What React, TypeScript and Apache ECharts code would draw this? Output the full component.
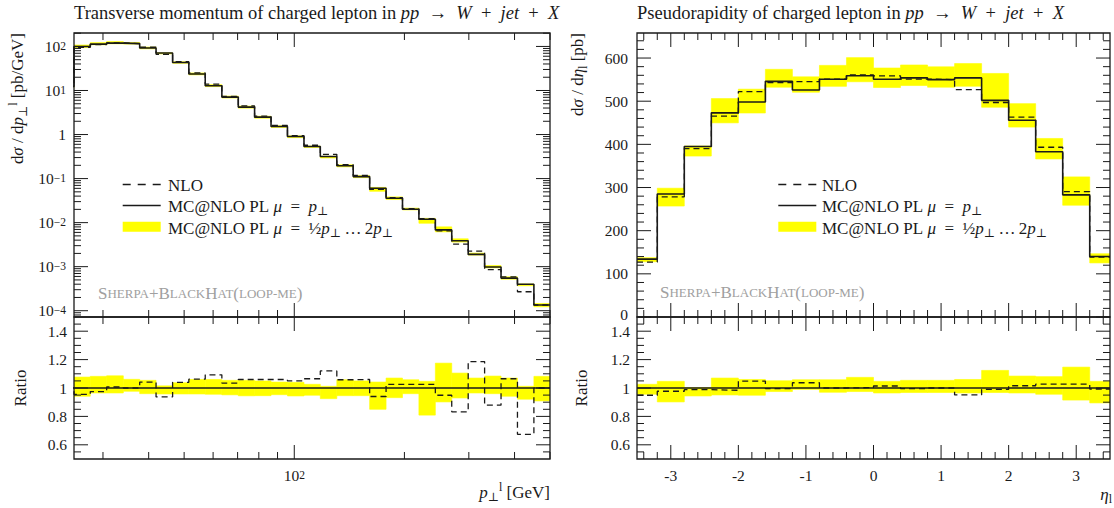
import React, { useEffect, useRef } from "react";
import * as echarts from "echarts";

// ---------------- data ----------------
// transverse momentum of the charged lepton: bin edges [GeV] (first bin lies just below the plotted range)
const PT_EDGES = [22.5, 25, 27.7, 30.7, 34.1, 37.8, 41.9, 46.5, 51.5, 57.1, 63.4, 70.3, 77.9, 86.4, 95.8, 106.3, 117.8, 130.7, 144.9, 160.7, 178.2, 197.6, 219.1, 243.0, 269.4, 298.8, 331.3, 367.4, 407.4, 451.8, 500];
// MC@NLO PL, mu = pT  [pb/GeV]
const PT_MC = [12.3, 100, 113, 119, 116, 92, 70.8, 43.3, 23.6, 12.8, 7.08, 4.2, 2.48, 1.52, 0.9, 0.536, 0.317, 0.195, 0.111, 0.0605, 0.0359, 0.0202, 0.01195, 0.00683, 0.00389, 0.0019, 0.00098, 0.00055, 0.0004, 0.000135];
// NLO / MC@NLO
const PT_NLO_RATIO = [1.0, 0.955, 0.975, 1.007, 1.0, 1.042, 0.937, 1.04, 1.062, 1.093, 1.035, 1.06, 1.06, 1.06, 1.05, 1.065, 1.12, 1.058, 1.06, 0.94, 1.026, 1.026, 1.026, 0.949, 0.832, 1.186, 0.879, 1.065, 0.674, 1.0];
// scale band (mu = pT/2 ... 2pT) / MC@NLO
const PT_BAND_HI = [1.06, 1.077, 1.082, 1.086, 1.061, 1.054, 1.015, 1.037, 1.06, 1.06, 1.054, 1.054, 1.05, 1.042, 1.04, 1.026, 1.012, 1.058, 1.05, 1.042, 1.07, 1.058, 1.047, 1.175, 1.105, 1.07, 1.084, 1.07, 1.012, 1.082];
const PT_BAND_LO = [0.91, 0.942, 0.965, 0.965, 0.977, 0.96, 0.958, 0.958, 0.958, 0.956, 0.952, 0.945, 0.946, 0.953, 0.944, 0.949, 0.925, 0.946, 0.946, 0.85, 0.932, 0.96, 0.809, 0.902, 0.93, 0.965, 0.96, 0.942, 0.921, 0.909];

// pseudorapidity of the charged lepton
const ETA_EDGES = [-3.5, -3.2, -2.8, -2.4, -2.0, -1.6, -1.2, -0.8, -0.4, 0, 0.4, 0.8, 1.2, 1.6, 2.0, 2.4, 2.8, 3.2, 3.5];
const ETA_MC = [134, 285, 395, 473, 498, 546, 526, 551, 559, 551, 554, 550, 554, 502, 456, 383, 283, 140];
const ETA_NLO_RATIO = [0.949, 0.977, 0.988, 0.984, 1.049, 0.995, 1.037, 1.0, 1.003, 1.014, 0.995, 1.0, 0.951, 0.99, 1.016, 1.027, 1.027, 0.993];
const ETA_BAND_HI = [1.026, 1.047, 1.003, 1.07, 1.06, 1.051, 1.058, 1.058, 1.075, 1.047, 1.054, 1.054, 1.06, 1.124, 1.084, 1.08, 1.147, 1.047];
const ETA_BAND_LO = [0.956, 0.902, 0.944, 0.951, 0.949, 0.975, 0.99, 0.97, 0.975, 0.965, 0.968, 0.968, 0.965, 0.968, 0.965, 0.956, 0.915, 0.895];

// tick values
const PT_MAJOR_TICKS = [100];
const PT_MINOR_TICKS = [30, 40, 50, 60, 70, 80, 90, 200, 300, 400, 500];
const XSEC_DECADES = [1e-4, 1e-3, 1e-2, 1e-1, 1, 10, 100];
const LOG_MINOR_MULTS = [2, 3, 4, 5, 6, 7, 8, 9];
const RATIO_MAJOR_TICKS = [0.6, 0.8, 1.0, 1.2, 1.4];
const ETA_MAJOR_TICKS = [-3, -2, -1, 0, 1, 2, 3];
const ETA_XSEC_MAJOR_TICKS = [0, 100, 200, 300, 400, 500, 600];

// ---------------- styling ----------------
const F = "'Liberation Serif', 'DejaVu Serif', serif";
const INK = "#1a1a1a";
const YELLOW = "#ffff00";
const GREY = "#a0a0a0";

const PT_MIN = 25, PT_MAX = 500;
const XS_MIN = 7.2e-5, XS_MAX = 202;
const ETA_MIN = -3.5, ETA_MAX = 3.5;
const EXS_MAX = 658;

function steps(edges: number[], vals: number[]) {
  const pts: number[][] = [];
  vals.forEach((v, i) => {
    pts.push([edges[i], v]);
    pts.push([edges[i + 1], v]);
  });
  return pts;
}

function bandSeries(xi: number, yi: number, edges: number[], lo: number[], hi: number[]) {
  return {
    type: "custom",
    xAxisIndex: xi,
    yAxisIndex: yi,
    silent: true,
    clip: true,
    z: 1,
    encode: { x: [0, 1], y: [2, 3] },
    data: lo.map((l, i) => [edges[i], edges[i + 1], l, hi[i]]),
    renderItem: (params: any, api: any) => {
      const a = api.coord([api.value(0), api.value(3)]);
      const b = api.coord([api.value(1), api.value(2)]);
      return {
        type: "rect",
        shape: { x: a[0], y: a[1], width: b[0] - a[0], height: b[1] - a[1] },
        style: { fill: YELLOW, stroke: YELLOW, lineWidth: 0.6 },
      };
    },
  };
}

function lineSeries(xi: number, yi: number, data: number[][], dashed: boolean) {
  return {
    type: "line",
    xAxisIndex: xi,
    yAxisIndex: yi,
    data,
    showSymbol: false,
    symbol: "none",
    silent: true,
    clip: true,
    z: dashed ? 4 : 5,
    lineStyle: dashed
      ? { color: INK, width: 1.3, type: [6, 4] }
      : { color: INK, width: 1.6, type: "solid" },
  };
}

function tickSeries(xi: number, yi: number, dir: "x" | "y", values: number[], ref: number, len: number) {
  return {
    type: "custom",
    xAxisIndex: xi,
    yAxisIndex: yi,
    silent: true,
    clip: false,
    z: 20,
    data: values.map((v) => (dir === "x" ? [v, ref] : [ref, v])),
    renderItem: (params: any, api: any) => {
      const cs = params.coordSys;
      const p = api.coord([api.value(0), api.value(1)]);
      const st = { stroke: INK, lineWidth: 1 };
      if (dir === "x") {
        return {
          type: "group",
          children: [
            { type: "line", shape: { x1: p[0], y1: cs.y, x2: p[0], y2: cs.y + len }, style: st },
            { type: "line", shape: { x1: p[0], y1: cs.y + cs.height, x2: p[0], y2: cs.y + cs.height - len }, style: st },
          ],
        };
      }
      return {
        type: "group",
        children: [
          { type: "line", shape: { x1: cs.x, y1: p[1], x2: cs.x + len, y2: p[1] }, style: st },
          { type: "line", shape: { x1: cs.x + cs.width, y1: p[1], x2: cs.x + cs.width - len, y2: p[1] }, style: st },
        ],
      };
    },
  };
}

function frameSeries(xi: number, yi: number, ref: number[]) {
  return {
    type: "custom",
    xAxisIndex: xi,
    yAxisIndex: yi,
    silent: true,
    clip: false,
    z: 21,
    data: [ref],
    renderItem: (params: any) => {
      const cs = params.coordSys;
      return {
        type: "rect",
        shape: { x: cs.x, y: cs.y, width: cs.width, height: cs.height },
        style: { fill: "none", stroke: INK, lineWidth: 1.3 },
      };
    },
  };
}

const rs = (size: number, extra: any = {}) => ({ fontFamily: F, fontSize: size, fill: INK, color: INK, ...extra });

const MATH_RICH = {
  n: rs(17, { lineHeight: 22 }),
  i: rs(17, { fontStyle: "italic", lineHeight: 22 }),
  sub: rs(12, { verticalAlign: "bottom", lineHeight: 12 }),
  sup: rs(12, { verticalAlign: "top", lineHeight: 12 }),
  fr: rs(17, { lineHeight: 22 }),
};

const TITLE_RICH = {
  n: rs(18.5, { lineHeight: 22 }),
  i: rs(18.5, { fontStyle: "italic", lineHeight: 22 }),
};

// tick labels (rich text so that the font is always applied)
const TICK_RICH = {
  b: { fontFamily: F, fontSize: 15.5, color: INK, lineHeight: 13 },
  z: { fontFamily: F, fontSize: 15.5, color: INK, lineHeight: 13, padding: [0, 0, 5, 0] },
  s: { fontFamily: F, fontSize: 11.5, color: INK, verticalAlign: "top", lineHeight: 8 },
};

function pow10Label(v: number) {
  const lg = Math.log10(v);
  const k = Math.round(lg);
  if (Math.abs(lg - k) > 1e-6) return "";
  if (k === 0) return "{b|1}";
  return "{b|10}{s|" + (k < 0 ? "\u2212" + -k : String(k)) + "}";
}

const axisBase = {
  axisLine: { show: false },
  axisTick: { show: false },
  splitLine: { show: false },
  minorTick: { show: false },
  minorSplitLine: { show: false },
};

function buildOption() {
  const logMinor: number[] = [];
  [1e-5, 1e-4, 1e-3, 1e-2, 1e-1, 1, 10, 100].forEach((d) =>
    LOG_MINOR_MULTS.forEach((m) => {
      const v = m * d;
      if (v > XS_MIN && v < XS_MAX) logMinor.push(v);
    })
  );
  const ratioMinor: number[] = [];
  for (let k = 11; k <= 29; k++) if (k % 4 !== 0) ratioMinor.push(k * 0.05);
  const etaMinor: number[] = [];
  for (let k = -17; k <= 17; k++) if (k % 5 !== 0) etaMinor.push(k * 0.2);
  const exsMinor: number[] = [];
  for (let k = 1; k <= 32; k++) if (k % 5 !== 0) exsMinor.push(k * 20);

  const ptNlo = PT_MC.map((v, i) => v * PT_NLO_RATIO[i]);
  const ptLo = PT_MC.map((v, i) => v * PT_BAND_LO[i]);
  const ptHi = PT_MC.map((v, i) => v * PT_BAND_HI[i]);
  const etaNlo = ETA_MC.map((v, i) => v * ETA_NLO_RATIO[i]);
  const etaLo = ETA_MC.map((v, i) => v * ETA_BAND_LO[i]);
  const etaHi = ETA_MC.map((v, i) => v * ETA_BAND_HI[i]);

  const gridCommon = { show: false, containLabel: false, outerBoundsMode: "none" };

  const ratioLabel = (v: number) => {
    const r = Math.round(v * 10);
    if (Math.abs(v * 10 - r) > 1e-6) return "";
    if (r % 2 !== 0 || r < 6 || r > 14) return "";
    return "{b|" + (r === 10 ? "1" : (r / 10).toFixed(1)) + "}";
  };

  const legendGraphics = (x0: number, tx: number) => [
    { type: "line", shape: { x1: x0, y1: 184.5, x2: x0 + 38, y2: 184.5 }, style: { stroke: INK, lineWidth: 1.3, lineDash: [8, 7] } },
    { type: "line", shape: { x1: x0, y1: 205.5, x2: x0 + 38, y2: 205.5 }, style: { stroke: INK, lineWidth: 1.5 } },
    { type: "rect", shape: { x: x0, y: 221.7, width: 38, height: 10 }, style: { fill: YELLOW } },
    { type: "text", x: tx, y: 185, style: { text: "{n|NLO}", rich: MATH_RICH, verticalAlign: "middle" } },
    {
      type: "text",
      x: tx,
      y: 206,
      style: { text: "{n|MC@NLO PL }{i|\u03bc}{n|\u2002=\u2002}{i|p}{sub|\u22a5}", rich: MATH_RICH, verticalAlign: "middle" },
    },
    {
      type: "text",
      x: tx,
      y: 228,
      style: {
        text: "{n|MC@NLO PL }{i|\u03bc}{n|\u2002=\u2002}{fr|\u00bd}{i|p}{sub|\u22a5}{n|\u2009\u2026\u20092}{i|p}{sub|\u22a5}",
        rich: MATH_RICH,
        verticalAlign: "middle",
      },
    },
  ];

  const sherpaRich = {
    C: rs(17, { fill: GREY, color: GREY }),
    c: rs(13, { fill: GREY, color: GREY }),
  };
  const sherpaText = "{C|S}{c|HERPA}{C|+B}{c|LACK}{C|H}{c|AT}{C|(}{c|LOOP-ME}{C|)}";

  const titleText = (s: string) =>
    "{n|" + s + "}{i|pp}{n|\u2002\u2192\u2002}{i|W}{n|\u2002+\u2002}{i|jet}{n|\u2002+\u2002}{i|X}";

  return {
    animation: false,
    backgroundColor: "#ffffff",
    grid: [
      { left: 74, top: 33, width: 476, height: 284, ...gridCommon },
      { left: 74, top: 317, width: 476, height: 142, ...gridCommon },
      { left: 637, top: 33, width: 473, height: 284, ...gridCommon },
      { left: 637, top: 317, width: 473, height: 142, ...gridCommon },
    ],
    xAxis: [
      { ...axisBase, type: "log", logBase: 10, gridIndex: 0, min: PT_MIN, max: PT_MAX, axisLabel: { show: false } },
      {
        ...axisBase,
        type: "log",
        logBase: 10,
        gridIndex: 1,
        min: PT_MIN,
        max: PT_MAX,
        axisLabel: {
          margin: 10,
          showMinLabel: false,
          showMaxLabel: false,
          formatter: (v: number) => (PT_MAJOR_TICKS.some((t) => Math.abs(t - v) < 1e-6 * t) ? pow10Label(v) : ""),
          rich: TICK_RICH,
        },
      },
      { ...axisBase, type: "value", gridIndex: 2, min: ETA_MIN, max: ETA_MAX, interval: 0.5, axisLabel: { show: false } },
      {
        ...axisBase,
        type: "value",
        gridIndex: 3,
        min: ETA_MIN,
        max: ETA_MAX,
        interval: 0.5,
        axisLabel: {
          margin: 10,
          formatter: (v: number) =>
            ETA_MAJOR_TICKS.some((t) => Math.abs(t - v) < 1e-6) ? "{b|" + String(Math.round(v)) + "}" : "",
          rich: TICK_RICH,
        },
      },
    ],
    yAxis: [
      {
        ...axisBase,
        type: "log",
        logBase: 10,
        gridIndex: 0,
        min: XS_MIN,
        max: XS_MAX,
        splitNumber: 6,
        axisLabel: {
          margin: 8,
          showMinLabel: false,
          showMaxLabel: false,
          formatter: (v: number) => (XSEC_DECADES.some((t) => Math.abs(t - v) < 1e-6 * t) ? pow10Label(v) : ""),
          rich: TICK_RICH,
        },
      },
      { ...axisBase, type: "value", gridIndex: 1, min: 0.5, max: 1.5, interval: 0.1, axisLabel: { margin: 7, formatter: ratioLabel, rich: TICK_RICH } },
      {
        ...axisBase,
        type: "value",
        gridIndex: 2,
        min: 0,
        max: EXS_MAX,
        interval: 100,
        axisLabel: {
          margin: 9,
          showMaxLabel: false,
          formatter: (v: number) =>
            ETA_XSEC_MAJOR_TICKS.includes(v) ? (v === 0 ? "{z|0}" : "{b|" + String(v) + "}") : "",
          rich: TICK_RICH,
        },
      },
      { ...axisBase, type: "value", gridIndex: 3, min: 0.5, max: 1.5, interval: 0.1, axisLabel: { margin: 7, formatter: ratioLabel, rich: TICK_RICH } },
    ],
    series: [
      // left main
      bandSeries(0, 0, PT_EDGES, ptLo, ptHi),
      lineSeries(0, 0, steps(PT_EDGES, ptNlo), true),
      lineSeries(0, 0, steps(PT_EDGES, PT_MC), false),
      // left ratio
      bandSeries(1, 1, PT_EDGES, PT_BAND_LO, PT_BAND_HI),
      lineSeries(1, 1, steps(PT_EDGES, PT_NLO_RATIO), true),
      lineSeries(1, 1, steps(PT_EDGES, PT_MC.map((v) => v / v)), false),
      // right main
      bandSeries(2, 2, ETA_EDGES, etaLo, etaHi),
      lineSeries(2, 2, steps(ETA_EDGES, etaNlo), true),
      lineSeries(2, 2, steps(ETA_EDGES, ETA_MC), false),
      // right ratio
      bandSeries(3, 3, ETA_EDGES, ETA_BAND_LO, ETA_BAND_HI),
      lineSeries(3, 3, steps(ETA_EDGES, ETA_NLO_RATIO), true),
      lineSeries(3, 3, steps(ETA_EDGES, ETA_MC.map((v) => v / v)), false),
      // ticks
      tickSeries(0, 0, "x", PT_MAJOR_TICKS, 1, 14),
      tickSeries(0, 0, "x", PT_MINOR_TICKS, 1, 7),
      tickSeries(0, 0, "y", XSEC_DECADES, 100, 14),
      tickSeries(0, 0, "y", logMinor, 100, 7),
      tickSeries(1, 1, "x", PT_MAJOR_TICKS, 1, 14),
      tickSeries(1, 1, "x", PT_MINOR_TICKS, 1, 7),
      tickSeries(1, 1, "y", RATIO_MAJOR_TICKS, 100, 14),
      tickSeries(1, 1, "y", ratioMinor, 100, 7),
      tickSeries(2, 2, "x", ETA_MAJOR_TICKS, 100, 14),
      tickSeries(2, 2, "x", etaMinor, 100, 7),
      tickSeries(2, 2, "y", ETA_XSEC_MAJOR_TICKS, 0, 14),
      tickSeries(2, 2, "y", exsMinor, 0, 7),
      tickSeries(3, 3, "x", ETA_MAJOR_TICKS, 1, 14),
      tickSeries(3, 3, "x", etaMinor, 1, 7),
      tickSeries(3, 3, "y", RATIO_MAJOR_TICKS, 0, 14),
      tickSeries(3, 3, "y", ratioMinor, 0, 7),
      // frames
      frameSeries(0, 0, [100, 1]),
      frameSeries(1, 1, [100, 1]),
      frameSeries(2, 2, [0, 100]),
      frameSeries(3, 3, [0, 1]),
    ],
    graphic: [
      { type: "text", x: 74, y: 13, style: { text: titleText("Transverse momentum of charged lepton in "), rich: TITLE_RICH, verticalAlign: "middle" } },
      { type: "text", x: 637, y: 13, style: { text: titleText("Pseudorapidity of charged lepton in "), rich: TITLE_RICH, verticalAlign: "middle" } },
      {
        type: "text",
        x: 17.5,
        y: 33,
        rotation: Math.PI / 2,
        style: { text: "{n|d}{i|\u03c3}{n| / d}{i|p}{sub|\u22a5}{sup|l}{n| [pb/GeV]}", rich: MATH_RICH, align: "right", verticalAlign: "middle" },
      },
      {
        type: "text",
        x: 577.5,
        y: 33,
        rotation: Math.PI / 2,
        style: { text: "{n|d}{i|\u03c3}{n| / d}{i|\u03b7}{sub|l}{n| [pb]}", rich: MATH_RICH, align: "right", verticalAlign: "middle" },
      },
      { type: "text", x: 20, y: 388, rotation: Math.PI / 2, style: { text: "{n|Ratio}", rich: MATH_RICH, align: "center", verticalAlign: "middle" } },
      { type: "text", x: 581, y: 388, rotation: Math.PI / 2, style: { text: "{n|Ratio}", rich: MATH_RICH, align: "center", verticalAlign: "middle" } },
      { type: "text", x: 550, y: 492, style: { text: "{i|p}{sub|\u22a5}{sup|l}{n| [GeV]}", rich: MATH_RICH, align: "right", verticalAlign: "middle" } },
      { type: "text", x: 1112, y: 494, style: { text: "{i|\u03b7}{sub|l}", rich: MATH_RICH, align: "right", verticalAlign: "middle" } },
      ...legendGraphics(122.7, 168),
      ...legendGraphics(778.3, 822),
      { type: "text", x: 98, y: 293, style: { text: sherpaText, rich: sherpaRich, verticalAlign: "middle" } },
      { type: "text", x: 660, y: 292, style: { text: sherpaText, rich: sherpaRich, verticalAlign: "middle" } },
    ],
  };
}

export default function App() {
  const ref = useRef<HTMLDivElement>(null);
  useEffect(() => {
    if (!ref.current) return;
    const chart = echarts.init(ref.current, null, { renderer: "svg" });
    chart.setOption(buildOption() as any);
    return () => chart.dispose();
  }, []);
  return (
    <div
      ref={ref}
      style={{ position: "fixed", left: 0, top: 0, width: 1114, height: 508, background: "#ffffff" }}
    />
  );
}
